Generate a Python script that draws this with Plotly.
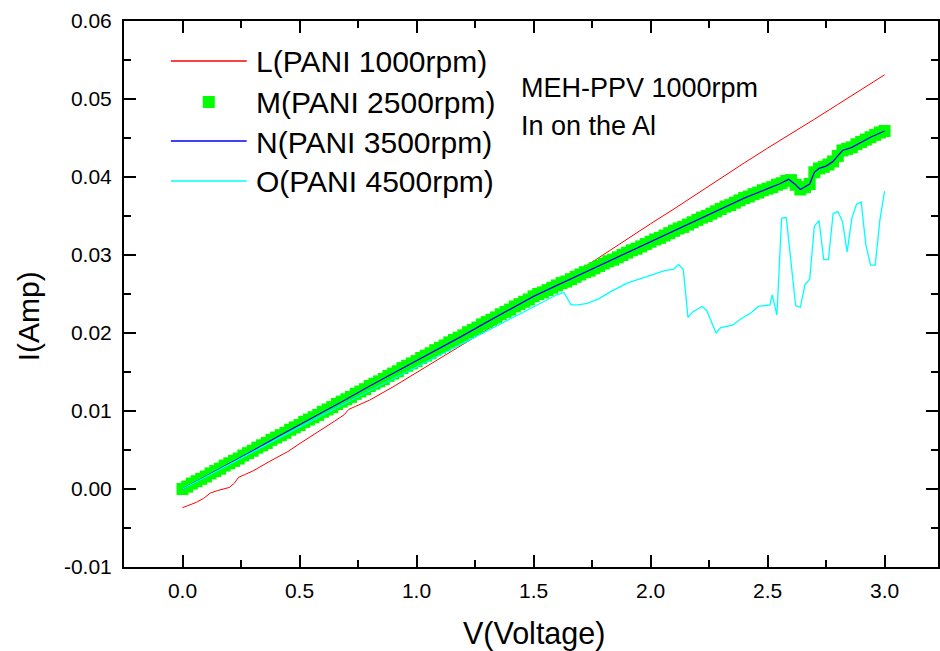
import plotly.graph_objects as go

# ---------------- data ----------------
L_V = [0.00, 0.03, 0.06, 0.09, 0.12, 0.15, 0.18, 0.20, 0.22, 0.24, 0.27, 0.30, 0.37, 0.45,
       0.51, 0.58, 0.65, 0.69, 0.71, 0.74, 0.80, 0.90, 1.00, 1.10, 1.20, 1.30, 1.40, 1.50,
       1.60, 1.70, 1.80, 1.90, 2.00, 2.10, 2.20, 2.30, 2.40, 2.50, 2.60, 2.70, 2.80, 2.90, 3.00]
L_I = [-0.0024, -0.0021, -0.0017, -0.0012, -0.0005, -0.0002, 0.0000, 0.0002, 0.0007, 0.0015,
       0.0019, 0.0023, 0.0035, 0.0048, 0.0060, 0.0073, 0.0087, 0.0095, 0.0102, 0.0106, 0.0114,
       0.0131, 0.0149, 0.0167, 0.0185, 0.0204, 0.0223, 0.0243, 0.0262, 0.0281, 0.0301, 0.0320,
       0.0340, 0.0359, 0.0379, 0.0399, 0.0418, 0.0437, 0.0455, 0.0474, 0.0493, 0.0512, 0.0531]

M_V = [round(0.02 * i, 2) for i in range(151)]  # 0.00 ... 3.00 V sweep, 0.02 V step
M_I = [0.0000, 0.0003, 0.0007, 0.0010, 0.0013, 0.0016, 0.0020, 0.0023, 0.0026, 0.0030,
       0.0033, 0.0036, 0.0039, 0.0043, 0.0046, 0.0049, 0.0053, 0.0056, 0.0059, 0.0063,
       0.0066, 0.0069, 0.0072, 0.0076, 0.0079, 0.0082, 0.0086, 0.0089, 0.0092, 0.0095,
       0.0099, 0.0102, 0.0105, 0.0109, 0.0112, 0.0115, 0.0118, 0.0122, 0.0125, 0.0128,
       0.0132, 0.0135, 0.0138, 0.0141, 0.0145, 0.0148, 0.0151, 0.0155, 0.0158, 0.0161,
       0.0164, 0.0168, 0.0171, 0.0174, 0.0178, 0.0181, 0.0184, 0.0188, 0.0191, 0.0194,
       0.0197, 0.0201, 0.0204, 0.0207, 0.0211, 0.0214, 0.0217, 0.0220, 0.0224, 0.0227,
       0.0230, 0.0234, 0.0237, 0.0240, 0.0243, 0.0247, 0.0250, 0.0252, 0.0255, 0.0258,
       0.0261, 0.0264, 0.0266, 0.0269, 0.0272, 0.0275, 0.0278, 0.0280, 0.0283, 0.0286,
       0.0289, 0.0292, 0.0294, 0.0297, 0.0300, 0.0303, 0.0306, 0.0308, 0.0311, 0.0314,
       0.0317, 0.0320, 0.0322, 0.0325, 0.0328, 0.0331, 0.0334, 0.0336, 0.0339, 0.0342,
       0.0345, 0.0348, 0.0350, 0.0353, 0.0356, 0.0359, 0.0362, 0.0364, 0.0367, 0.0370,
       0.0373, 0.0375, 0.0378, 0.0380, 0.0383, 0.0385, 0.0387, 0.0390, 0.0392, 0.0395,
       0.0396, 0.0390, 0.0384, 0.0387, 0.0391, 0.0406, 0.0411, 0.0413, 0.0416, 0.0420,
       0.0427, 0.0434, 0.0436, 0.0438, 0.0442, 0.0445, 0.0448, 0.0451, 0.0454, 0.0457,
       0.0459]

N_V = [0.0, 0.1, 0.2, 0.3, 0.4, 0.5, 0.6, 0.7, 0.8, 0.9, 1.0, 1.1, 1.2, 1.3, 1.4, 1.5, 1.6,
       1.7, 1.8, 1.9, 2.0, 2.1, 2.2, 2.3, 2.4, 2.5, 2.55, 2.59, 2.62, 2.64, 2.68, 2.70, 2.72,
       2.75, 2.78, 2.80, 2.82, 2.86, 2.90, 2.94, 3.00]
N_I = [0.0000, 0.0016, 0.0033, 0.0049, 0.0066, 0.0082, 0.0099, 0.0115, 0.0132, 0.0148,
       0.0164, 0.0181, 0.0197, 0.0214, 0.0230, 0.0247, 0.0261, 0.0275, 0.0289, 0.0303,
       0.0317, 0.0331, 0.0345, 0.0359, 0.0373, 0.0385, 0.0391, 0.0397, 0.0390, 0.0384,
       0.0391, 0.0406, 0.0411, 0.0414, 0.0420, 0.0427, 0.0434, 0.0438, 0.0445, 0.0451,
       0.0459]

O_V = [0.0, 0.2, 0.4, 0.6, 0.8, 1.0, 1.2, 1.4, 1.5, 1.6, 1.63, 1.66, 1.69, 1.73, 1.78, 1.83,
       1.90, 1.98, 2.06, 2.10, 2.12, 2.14, 2.16, 2.18, 2.22, 2.24, 2.28, 2.30, 2.35, 2.39,
       2.43, 2.46, 2.51, 2.52, 2.54, 2.56, 2.58, 2.62, 2.64, 2.66, 2.68, 2.70, 2.72, 2.74,
       2.76, 2.78, 2.80, 2.82, 2.84, 2.86, 2.88, 2.90, 2.92, 2.94, 2.96, 2.98, 3.00]
O_I = [0.0000, 0.0032, 0.0063, 0.0095, 0.0126, 0.0156, 0.0187, 0.0218, 0.0234, 0.0249,
       0.0252, 0.0236, 0.0236, 0.0238, 0.0244, 0.0253, 0.0264, 0.0272, 0.0280, 0.0282,
       0.0288, 0.0281, 0.0220, 0.0227, 0.0234, 0.0229, 0.0200, 0.0207, 0.0210, 0.0219,
       0.0226, 0.0234, 0.0236, 0.0249, 0.0223, 0.0347, 0.0348, 0.0235, 0.0233, 0.0262,
       0.0269, 0.0337, 0.0344, 0.0294, 0.0294, 0.0353, 0.0356, 0.0343, 0.0304, 0.0347,
       0.0365, 0.0368, 0.0313, 0.0287, 0.0287, 0.0345, 0.0382]

SERIES_NAMES = ["L(PANI 1000rpm)", "M(PANI 2500rpm)", "N(PANI 3500rpm)", "O(PANI 4500rpm)"]
NOTE_LINES = ["MEH-PPV 1000rpm", "In on the Al"]
X_TICKS = [0.0, 0.5, 1.0, 1.5, 2.0, 2.5, 3.0]
X_TICK_TEXT = ["0.0", "0.5", "1.0", "1.5", "2.0", "2.5", "3.0"]
Y_TICKS = [-0.01, 0.00, 0.01, 0.02, 0.03, 0.04, 0.05, 0.06]
Y_TICK_TEXT = ["-0.01", "0.00", "0.01", "0.02", "0.03", "0.04", "0.05", "0.06"]

# ---------------- layout geometry ----------------
W, H = 940, 651
ML, MR, MT, MB = 124, 0, 21, 84
PW, PH = W - ML - MR, H - MT - MB
FONT = "Liberation Sans, Arial, sans-serif"


def px(x):
    return (x - ML) / PW


def py(y):
    return (H - MB - y) / PH


RED, GREEN, BLUE, CYAN = "#FF0000", "#00FF00", "#0000FF", "#00FFFF"

fig = go.Figure()
fig.add_trace(go.Scatter(x=L_V, y=L_I, mode="lines", name=SERIES_NAMES[0],
                         line=dict(color=RED, width=1)))
fig.add_trace(go.Scatter(x=M_V, y=M_I, mode="markers", name=SERIES_NAMES[1],
                         marker=dict(symbol="square", size=12, color=GREEN, line=dict(width=0))))
fig.add_trace(go.Scatter(x=N_V, y=N_I, mode="lines", name=SERIES_NAMES[2],
                         line=dict(color=BLUE, width=1.3)))
fig.add_trace(go.Scatter(x=O_V, y=O_I, mode="lines", name=SERIES_NAMES[3],
                         line=dict(color=CYAN, width=1.3)))

x0 = -0.25
x1 = x0 + PW / 234.6

axis_common = dict(showline=True, linewidth=2, linecolor="black", mirror="ticks",
                   ticks="inside", ticklen=12, tickwidth=2, tickcolor="black",
                   showgrid=False, zeroline=False,
                   tickfont=dict(family=FONT, size=21, color="black"))

fig.update_xaxes(range=[x0, x1], tickmode="array", tickvals=X_TICKS, ticktext=X_TICK_TEXT,
                 minor=dict(dtick=0.25, tick0=0, ticks="inside", ticklen=7, tickwidth=2,
                            tickcolor="black", showgrid=False),
                 ticklabelstandoff=4, **axis_common)
fig.update_yaxes(range=[-0.01, 0.06], tickmode="array", tickvals=Y_TICKS, ticktext=Y_TICK_TEXT,
                 minor=dict(dtick=0.005, tick0=0, ticks="inside", ticklen=7, tickwidth=2,
                            tickcolor="black", showgrid=False),
                 ticklabelstandoff=6, **axis_common)

annotations = []
# axis titles
annotations.append(dict(text="V(Voltage)", x=px(535), y=py(633), xref="paper", yref="paper",
                        xanchor="center", yanchor="middle", showarrow=False,
                        font=dict(family=FONT, size=30.5, color="black")))
annotations.append(dict(text="I(Amp)", x=px(28), y=py(316), xref="paper", yref="paper",
                        xanchor="center", yanchor="middle", showarrow=False, textangle=-90,
                        font=dict(family=FONT, size=30, color="black")))
# note text
for line, yy in zip(NOTE_LINES, [88, 126]):
    annotations.append(dict(text=line, x=px(520), y=py(yy), xref="paper", yref="paper",
                            xanchor="left", yanchor="middle", showarrow=False,
                            font=dict(family=FONT, size=27, color="black")))

# legend (drawn by hand to match the long line samples)
legend_rows = [62, 102, 142, 182]
shapes = []
for i, (name, yy) in enumerate(zip(SERIES_NAMES, legend_rows)):
    annotations.append(dict(text=name, x=px(254), y=py(yy), xref="paper", yref="paper",
                            xanchor="left", yanchor="middle", showarrow=False,
                            font=dict(family=FONT, size=30, color="black")))
    if i == 1:
        shapes.append(dict(type="rect", xref="paper", yref="paper",
                           x0=px(203), x1=px(215), y0=py(yy + 6), y1=py(yy - 6),
                           fillcolor=GREEN, line=dict(width=0)))
    else:
        col = [RED, GREEN, BLUE, CYAN][i]
        shapes.append(dict(type="line", xref="paper", yref="paper",
                           x0=px(171), x1=px(247), y0=py(yy - 1), y1=py(yy - 1),
                           line=dict(color=col, width=1.3)))

fig.update_layout(width=W, height=H, margin=dict(l=ML, r=MR, t=MT, b=MB),
                  paper_bgcolor="white", plot_bgcolor="white", showlegend=False,
                  annotations=annotations, shapes=shapes,
                  font=dict(family=FONT, color="black"))

fig.write_html("out.html")
